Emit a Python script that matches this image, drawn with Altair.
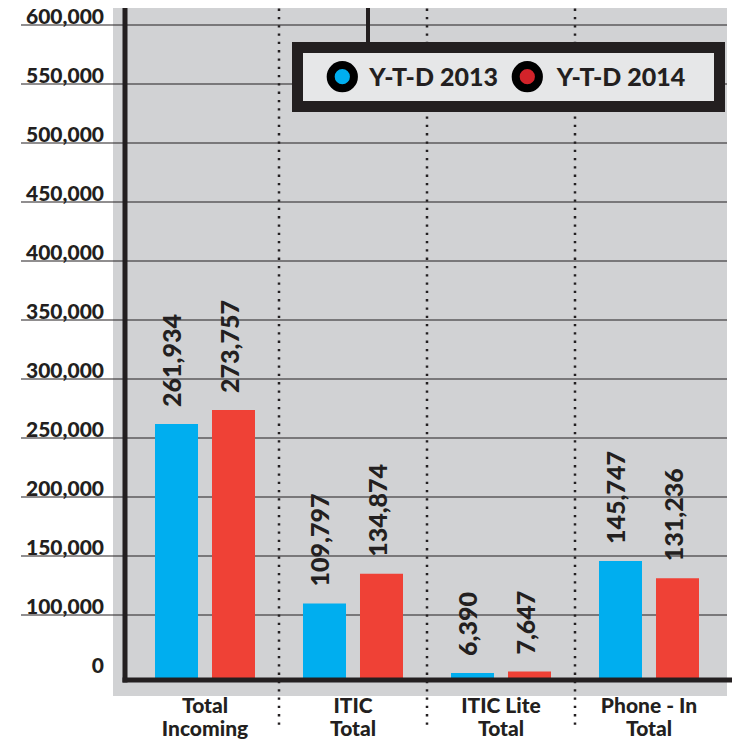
import altair as alt
import pandas as pd

# ---------------- data ----------------
categories = ["Total\nIncoming", "ITIC\nTotal", "ITIC Lite\nTotal", "Phone - In\nTotal"]
series = ["Y-T-D 2013", "Y-T-D 2014"]
ytd_2013 = [261934, 109797, 6390, 145747]
ytd_2014 = [273757, 134874, 7647, 131236]
tick_values = [0, 100000, 150000, 200000, 250000, 300000, 350000, 400000,
               450000, 500000, 550000, 600000]
tick_labels = ["0", "100,000", "150,000", "200,000", "250,000", "300,000", "350,000",
               "400,000", "450,000", "500,000", "550,000", "600,000"]

bar_colors = ["#00aeef", "#ef4136"]
legend_colors = ["#00aeef", "#d2232a"]
INK = "#231f20"
FONT = "Lato"
WEIGHT = 900

rows = []
for c, a, b in zip(categories, ytd_2013, ytd_2014):
    rows.append({"category": c, "series": series[0], "value": a, "label": f"{a:,}"})
    rows.append({"category": c, "series": series[1], "value": b, "label": f"{b:,}"})
df = pd.DataFrame(rows)
ticks = pd.DataFrame({"v": tick_values, "t": tick_labels})
cats = pd.DataFrame({"category": categories})
one = pd.DataFrame({"a": [0]})

W, H = 607, 680

# piecewise scale: the infographic compresses its bottom band
yscale = alt.Scale(domain=[0, 10000, 100000, 600000], range=[680, 669, 615, 25],
                   nice=False, zero=False)
xscale = alt.Scale(domain=categories, range=[6, 598], paddingInner=0, paddingOuter=0)


def xenc(**kw):
    return alt.X("category:N", sort=categories, scale=xscale, axis=None, **kw)


def yenc(field):
    return alt.Y(field, scale=yscale, axis=None)


xoff = alt.XOffset("series:N", sort=series,
                   scale=alt.Scale(domain=series, paddingInner=0.2456, paddingOuter=0.421))

bg = alt.Chart(one).mark_rect(color="#d1d2d4").encode(
    x=alt.value(-12), x2=alt.value(602), y=alt.value(-8), y2=alt.value(696))

grid = alt.Chart(ticks).transform_filter("datum.v > 0").mark_rule(
    color=INK, strokeWidth=1.2).encode(
    y=yenc("v:Q"), x=alt.value(-104), x2=alt.value(602))

seps = alt.Chart(cats).transform_filter(
    alt.FieldOneOfPredicate(field="category", oneOf=categories[:-1])).mark_rule(
    color=INK, strokeWidth=2.5, strokeDash=[2.3, 6]).encode(
    x=xenc(bandPosition=1), y=alt.value(-8), y2=alt.value(730))

bars = alt.Chart(df).mark_bar().encode(
    x=xenc(), xOffset=xoff, y=yenc("value:Q"),
    color=alt.Color("series:N", scale=alt.Scale(domain=series, range=bar_colors), legend=None))

bar_labels = alt.Chart(df).mark_text(
    angle=270, align="left", baseline="middle", dx=17, dy=-3,
    font=FONT, fontSize=25, fontWeight=WEIGHT, color=INK).encode(
    x=xenc(), xOffset=xoff, y=yenc("value:Q"), text="label:N")

ylab = alt.Chart(ticks).transform_filter("datum.v > 0").mark_text(
    align="right", baseline="alphabetic", dy=-1,
    font=FONT, fontSize=21, fontWeight=WEIGHT, color=INK).encode(
    y=yenc("v:Q"), x=alt.value(-21), text="t:N")

ylab0 = alt.Chart(ticks).transform_filter("datum.v == 0").mark_text(
    align="right", baseline="alphabetic", dy=-7,
    font=FONT, fontSize=21, fontWeight=WEIGHT, color=INK).encode(
    y=yenc("v:Q"), x=alt.value(-21), text="t:N")

left_axis = alt.Chart(one).mark_rule(color=INK, strokeWidth=5).encode(
    x=alt.value(0), y=alt.value(-8), y2=alt.value(682.5))
bottom_axis = alt.Chart(one).mark_rule(color=INK, strokeWidth=5).encode(
    x=alt.value(-2.5), x2=alt.value(W), y=alt.value(680))

cat_labels = alt.Chart(cats).mark_text(
    lineBreak="\n", lineHeight=23, align="center", baseline="alphabetic",
    font=FONT, fontSize=21, fontWeight=WEIGHT, color=INK).encode(
    x=xenc(), y=alt.value(713), text="category:N")

# legend box
stem = alt.Chart(one).mark_rule(color=INK, strokeWidth=4).encode(
    x=alt.value(243), y=alt.value(-8), y2=alt.value(44))
box = alt.Chart(one).mark_rect(fill="#e6e7e8", stroke=INK, strokeWidth=11).encode(
    x=alt.value(172.5), x2=alt.value(594.5), y=alt.value(47.5), y2=alt.value(106.5))

legend_layers = []
sym_x = [217.3, 402.3]
txt_x = [244.3, 431.7]
for s, col, sx, tx in zip(series, legend_colors, sym_x, txt_x):
    d = pd.DataFrame({"series": [s]})
    legend_layers.append(alt.Chart(d).mark_circle(
        size=540, fill=col, stroke="#000000", strokeWidth=8, opacity=1).encode(
        x=alt.value(sx), y=alt.value(76.7)))
    legend_layers.append(alt.Chart(d).mark_text(
        align="left", baseline="alphabetic", font=FONT, fontSize=25,
        fontWeight=WEIGHT, color=INK).encode(
        x=alt.value(tx), y=alt.value(86), text="series:N"))

chart = alt.layer(
    bg, grid, seps, bars, bar_labels, ylab, ylab0, left_axis, bottom_axis,
    cat_labels, stem, box, *legend_layers
).properties(
    width=W, height=H,
    autosize=alt.AutoSizeParams(type="none"),
    padding={"left": 117, "top": -8, "right": 0, "bottom": 60},
    background="white",
).configure_view(stroke=None)

chart.save("out.html", embed_options={"renderer": "svg", "actions": False})
